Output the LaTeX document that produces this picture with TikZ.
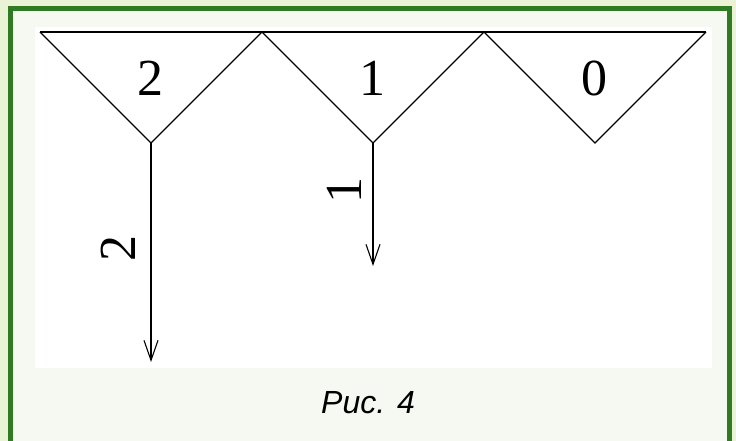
\documentclass[tikz,border=0pt]{standalone}
\usepackage{fontspec}
\setmainfont{Liberation Serif}
\newfontfamily\capfont{Liberation Sans}
\usetikzlibrary{arrows.meta}
\definecolor{outerbg}{HTML}{EBF3D6}
\definecolor{framegreen}{HTML}{2F7A22}
\definecolor{innerbg}{HTML}{F6F9F1}
\tikzset{
  tri/.style={draw=black, line width=1.2pt, line join=miter},
  flow/.style={draw=black, line width=1.2pt, -{Straight Barb[length=20pt,width=14pt,line width=1.1pt]}},
  digit/.style={font=\fontsize{52}{52}\selectfont, inner sep=0pt},
  caption/.style={font=\capfont\itshape\fontsize{32}{32}\selectfont, inner sep=0pt}
}
\begin{document}
\begin{tikzpicture}[x=1pt,y=-1pt]
\useasboundingbox (0,0) rectangle (736,441);
\fill[outerbg] (0,0) rectangle (736,441);
\draw[framegreen, line width=4.6pt, fill=innerbg] (10.3,8.3) rectangle (729.7,470);
\fill[white] (35,27) rectangle (712,368);
% triangles
\coordinate (t0) at (40,32);
\coordinate (t1) at (262,32);
\coordinate (t2) at (484,32);
\coordinate (t3) at (706,32);
\coordinate (a1) at (151,143);
\coordinate (a2) at (373,143);
\coordinate (a3) at (595,143);
\draw[tri] (t0) -- (t3);
\draw[tri] (t0) -- (a1) -- (t1) -- (a2) -- (t2) -- (a3) -- (t3);
% arrows
\coordinate (e1) at (151,362);
\coordinate (e2) at (373,266);
\draw[flow] (a1) -- (e1);
\draw[flow] (a2) -- (e2);
% labels
\node[digit] (l2) at (150,78) {2};
\node[digit] (l1) at (372,78) {1};
\node[digit] (l0) at (594,78) {0};
\node[digit, rotate=90] (r2) at (118,248) {2};
\node[digit, rotate=90] (r1) at (344,190) {1};
\node[caption] (cap) at (368,403) {Рис. 4};
\end{tikzpicture}
\end{document}
